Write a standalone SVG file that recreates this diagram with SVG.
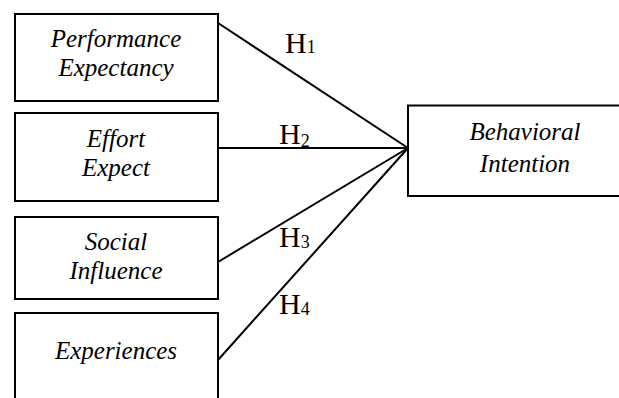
<svg xmlns="http://www.w3.org/2000/svg" width="619" height="398" viewBox="0 0 619 398">
<style>
.box{fill:#fff;stroke:#000;stroke-width:2}
.c{stroke:#000;stroke-width:2;fill:none}
</style>
<rect width="619" height="398" fill="#fff"/>
<g id="connectors">
<line class="c" x1="218" y1="23" x2="408" y2="148"/>
<line class="c" x1="218" y1="148" x2="408" y2="148"/>
<line class="c" x1="218" y1="262" x2="408" y2="148"/>
<line class="c" x1="218" y1="360" x2="408" y2="148"/>
<g font-family="Liberation Serif" font-size="30" fill="#000">
<text x="285" y="53">H<tspan font-size="18">1</tspan></text>
<text x="279" y="144">H<tspan font-size="18" dy="3">2</tspan></text>
<text x="279" y="247">H<tspan font-size="18" dy="1">3</tspan></text>
<text x="279" y="314">H<tspan font-size="18" dy="1">4</tspan></text>
</g>
</g>
<g font-family="Liberation Serif" font-style="italic" font-size="25" text-anchor="middle" fill="#000">
<g id="performance">
<rect class="box" x="15" y="14" width="203" height="87"/>
<text x="116" y="47">Performance</text>
<text x="116" y="76">Expectancy</text>
</g>
<g id="effort">
<rect class="box" x="15" y="113" width="203" height="88"/>
<text x="116" y="147">Effort</text>
<text x="116" y="176">Expect</text>
</g>
<g id="social">
<rect class="box" x="15" y="217" width="203" height="82"/>
<text x="116" y="250">Social</text>
<text x="116" y="279">Influence</text>
</g>
<g id="experiences">
<rect class="box" x="15" y="313" width="203" height="100"/>
<text x="116" y="359">Experiences</text>
</g>
<g id="behavioral">
<rect class="box" x="408" y="105.5" width="220" height="90.5"/>
<text x="525" y="140">Behavioral</text>
<text x="525" y="172">Intention</text>
</g>
</g>
</svg>
